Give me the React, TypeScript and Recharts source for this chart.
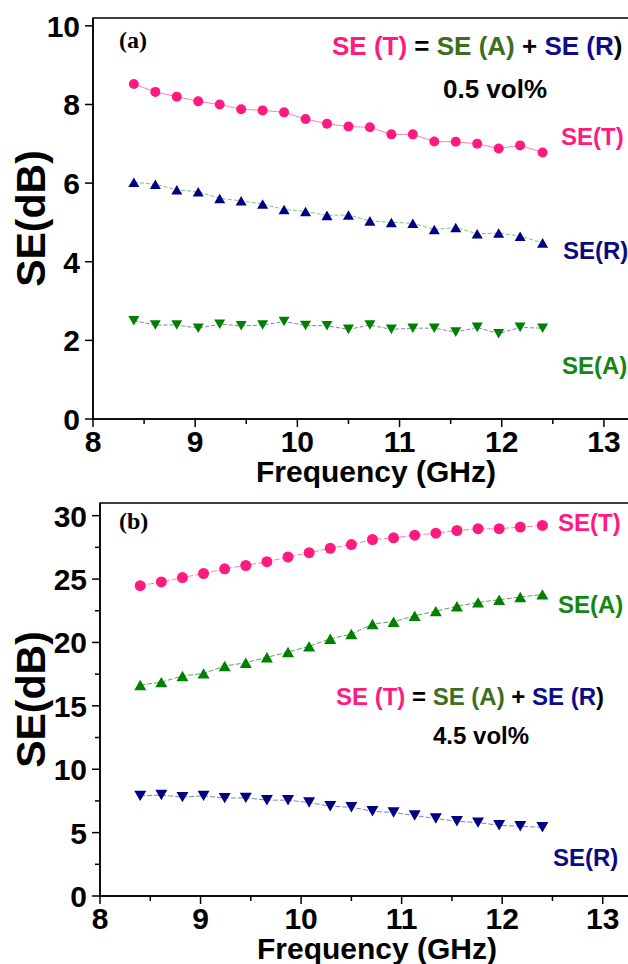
import React from 'react';
import { LineChart, Line, XAxis, YAxis, ReferenceArea } from 'recharts';

// frequency points (GHz), same for both panels
const FREQ = [8.4, 8.61, 8.82, 9.03, 9.24, 9.45, 9.66, 9.87, 10.08, 10.29, 10.5, 10.71, 10.92, 11.13, 11.34, 11.55, 11.76, 11.97, 12.18, 12.4];

// (a) 0.5 vol%
const A_TOTAL = [8.52, 8.32, 8.2, 8.08, 8.0, 7.88, 7.85, 7.8, 7.63, 7.51, 7.44, 7.42, 7.24, 7.24, 7.06, 7.05, 7.0, 6.88, 6.96, 6.78];
const A_REFL = [6.02, 5.97, 5.83, 5.78, 5.61, 5.55, 5.47, 5.33, 5.28, 5.18, 5.19, 5.04, 5.0, 4.98, 4.82, 4.87, 4.71, 4.73, 4.65, 4.48];
const A_ABS = [2.5, 2.39, 2.39, 2.31, 2.41, 2.37, 2.39, 2.48, 2.38, 2.37, 2.28, 2.39, 2.28, 2.31, 2.31, 2.21, 2.33, 2.17, 2.33, 2.31];

// (b) 4.5 vol%
const B_TOTAL = [24.48, 24.77, 25.12, 25.44, 25.81, 26.07, 26.37, 26.74, 27.08, 27.43, 27.72, 28.12, 28.25, 28.46, 28.62, 28.83, 28.97, 28.97, 29.1, 29.23];
const B_ABS = [16.64, 16.87, 17.35, 17.56, 18.14, 18.4, 18.83, 19.24, 19.7, 20.29, 20.66, 21.46, 21.64, 22.1, 22.47, 22.86, 23.16, 23.37, 23.58, 23.79];
const B_REFL = [7.9, 7.96, 7.8, 7.9, 7.72, 7.74, 7.56, 7.56, 7.37, 7.08, 7.0, 6.69, 6.58, 6.35, 6.11, 5.9, 5.79, 5.58, 5.5, 5.42];

const X_TICKS = [8, 8.5, 9, 9.5, 10, 10.5, 11, 11.5, 12, 12.5, 13];
const A_Y_TICKS = [0, 2, 4, 6, 8, 10];
const B_Y_TICKS = [0, 2.5, 5, 7.5, 10, 12.5, 15, 17.5, 20, 22.5, 25, 27.5, 30];

const PINK = '#ff1a7f';
const NAVY = '#000080';
const GREEN = '#008000';
const OLIVE = '#3c6e1e';
const FONT = '"Liberation Sans", Arial, sans-serif';

const dataA = FREQ.map((f, i) => ({ f, t: A_TOTAL[i], r: A_REFL[i], a: A_ABS[i] }));
const dataB = FREQ.map((f, i) => ({ f, t: B_TOTAL[i], r: B_REFL[i], a: B_ABS[i] }));

const XTick = (props: any) => {
  const { x, y, payload } = props;
  const major = Number.isInteger(payload.value);
  return (
    <g>
      <line x1={x} x2={x} y1={y} y2={y + (major ? 8 : 5)} stroke="#000" strokeWidth={1.5} />
      {major && (
        <text x={x} y={y + 33} textAnchor="middle" fontSize={30} fontWeight="bold" fontFamily={FONT} fill="#000">
          {payload.value}
        </text>
      )}
    </g>
  );
};

const makeYTick = (step: number) => (props: any) => {
  const { x, y, payload } = props;
  const major = payload.value % step === 0;
  return (
    <g>
      <line x1={x} x2={x - (major ? 8 : 5)} y1={y} y2={y} stroke="#000" strokeWidth={1.5} />
      {major && (
        <text x={x - 13} y={y + 11} textAnchor="end" fontSize={30} fontWeight="bold" fontFamily={FONT} fill="#000">
          {payload.value}
        </text>
      )}
    </g>
  );
};

const circleDot = (color: string, r: number) => (p: any) => (
  <circle key={`c${p.index}`} cx={p.cx} cy={p.cy} r={r} fill={color} />
);

const triDot = (color: string, s: number, down: boolean) => (p: any) => {
  const { cx, cy } = p;
  const h = s * 0.87;
  const pts = down
    ? `${cx - s / 2},${cy - h / 2} ${cx + s / 2},${cy - h / 2} ${cx},${cy + h / 2}`
    : `${cx - s / 2},${cy + h / 2} ${cx + s / 2},${cy + h / 2} ${cx},${cy - h / 2}`;
  return <polygon key={`t${p.index}`} points={pts} fill={color} />;
};

function Panel({ data, yMax, yTicks, step, width, height, top, yWidth, xHeight, lines }: any) {
  return (
    <LineChart width={width} height={height} data={data} margin={{ top, right: 0, bottom: 0, left: 0 }}>
      <XAxis
        dataKey="f"
        type="number"
        domain={[8, 13.5]}
        allowDataOverflow
        ticks={X_TICKS}
        interval={0}
        tick={<XTick />}
        tickLine={false}
        tickSize={0}
        tickMargin={0}
        height={xHeight}
        axisLine={{ stroke: '#000', strokeWidth: 1.5 }}
      />
      <YAxis
        type="number"
        domain={[0, yMax]}
        allowDataOverflow
        ticks={yTicks}
        interval={0}
        tick={makeYTick(step)}
        tickLine={false}
        tickSize={0}
        tickMargin={0}
        width={yWidth}
        axisLine={{ stroke: '#000', strokeWidth: 1.5 }}
      />
      <ReferenceArea x1={8} x2={13.5} y1={0} y2={yMax} fill="none" stroke="#000" strokeWidth={1.5} />
      {lines.map((l: any) => (
        <Line
          key={l.key}
          dataKey={l.key}
          type="linear"
          stroke={l.stroke}
          strokeWidth={1}
          strokeDasharray={l.dash}
          dot={l.dot}
          activeDot={false}
          isAnimationActive={false}
        />
      ))}
    </LineChart>
  );
}

export default function App() {
  const txt = { fontFamily: FONT, fontWeight: 'bold' as const, whiteSpace: 'pre' as const };
  return (
    <div style={{ position: 'absolute', left: 0, top: 0, width: 628, height: 964, overflow: 'hidden', background: '#fff' }}>
      <div style={{ position: 'absolute', left: 0, top: 0 }}>
        <Panel
          data={dataA}
          yMax={10.2}
          yTicks={A_Y_TICKS}
          step={2}
          width={655}
          height={490}
          top={18}
          yWidth={93}
          xHeight={71}
          lines={[
            { key: 't', stroke: '#ff7fb0', dash: undefined, dot: circleDot(PINK, 5) },
            { key: 'r', stroke: '#7fbf7f', dash: '4 2', dot: triDot(NAVY, 11, false) },
            { key: 'a', stroke: '#8080c0', dash: '4 2', dot: triDot(GREEN, 11, true) },
          ]}
        />
      </div>
      <div style={{ position: 'absolute', left: 0, top: 490 }}>
        <Panel
          data={dataB}
          yMax={31}
          yTicks={B_Y_TICKS}
          step={5}
          width={653}
          height={474}
          top={13}
          yWidth={100}
          xHeight={68}
          lines={[
            { key: 't', stroke: '#ff7fb0', dash: '6 2', dot: circleDot(PINK, 5.5) },
            { key: 'a', stroke: '#5fa05f', dash: '5 2', dot: triDot(GREEN, 12, false) },
            { key: 'r', stroke: '#7f7fbf', dash: '5 2', dot: triDot(NAVY, 12, true) },
          ]}
        />
      </div>
      <svg width={628} height={964} style={{ position: 'absolute', left: 0, top: 0, pointerEvents: 'none' }}>
        {/* axis titles */}
        <text x={44.7} y={218.5} transform="rotate(-90 44.7 218.5)" textAnchor="middle" fontSize={41} style={txt}>SE(dB)</text>
        <text x={44.7} y={699.5} transform="rotate(-90 44.7 699.5)" textAnchor="middle" fontSize={41} style={txt}>SE(dB)</text>
        <text x={376} y={482} textAnchor="middle" fontSize={30} style={txt}>Frequency (GHz)</text>
        <text x={377} y={959} textAnchor="middle" fontSize={30} style={txt}>Frequency (GHz)</text>

        {/* panel (a) */}
        <text x={119} y={48} fontSize={24} fontFamily='"Liberation Serif", serif' fontWeight="bold">(a)</text>
        <text x={332} y={55} fontSize={26} style={txt}>
          <tspan fill={PINK}>SE (T)</tspan>
          <tspan fill="#000"> = </tspan>
          <tspan fill={OLIVE}>SE (A)</tspan>
          <tspan fill="#000"> + </tspan>
          <tspan fill="#0d0d8c">SE (R</tspan>
          <tspan fill="#000">)</tspan>
        </text>
        <text x={443} y={98} fontSize={26} style={txt}>0.5 vol%</text>
        <text x={561} y={145} fontSize={24} fill={PINK} style={txt}>SE(T)</text>
        <text x={563} y={259} fontSize={24} fill="#0a0a80" style={txt}>SE(R)</text>
        <text x={562} y={374} fontSize={24} fill="#138613" style={txt}>SE(A)</text>

        {/* panel (b) */}
        <text x={119} y={529} fontSize={24} fontFamily='"Liberation Serif", serif' fontWeight="bold">(b)</text>
        <text x={558} y={531} fontSize={24} fill={PINK} style={txt}>SE(T)</text>
        <text x={558} y={613} fontSize={24} fill="#138613" style={txt}>SE(A)</text>
        <text x={336} y={705} fontSize={24} style={txt}>
          <tspan fill={PINK}>SE (T)</tspan>
          <tspan fill="#000"> = </tspan>
          <tspan fill={OLIVE}>SE (A)</tspan>
          <tspan fill="#000"> + </tspan>
          <tspan fill="#0d0d8c">SE (R</tspan>
          <tspan fill="#000">)</tspan>
        </text>
        <text x={433} y={744} fontSize={24} style={txt}>4.5 vol%</text>
        <text x={553} y={866} fontSize={24} fill="#0a0a80" style={txt}>SE(R)</text>
      </svg>
    </div>
  );
}
